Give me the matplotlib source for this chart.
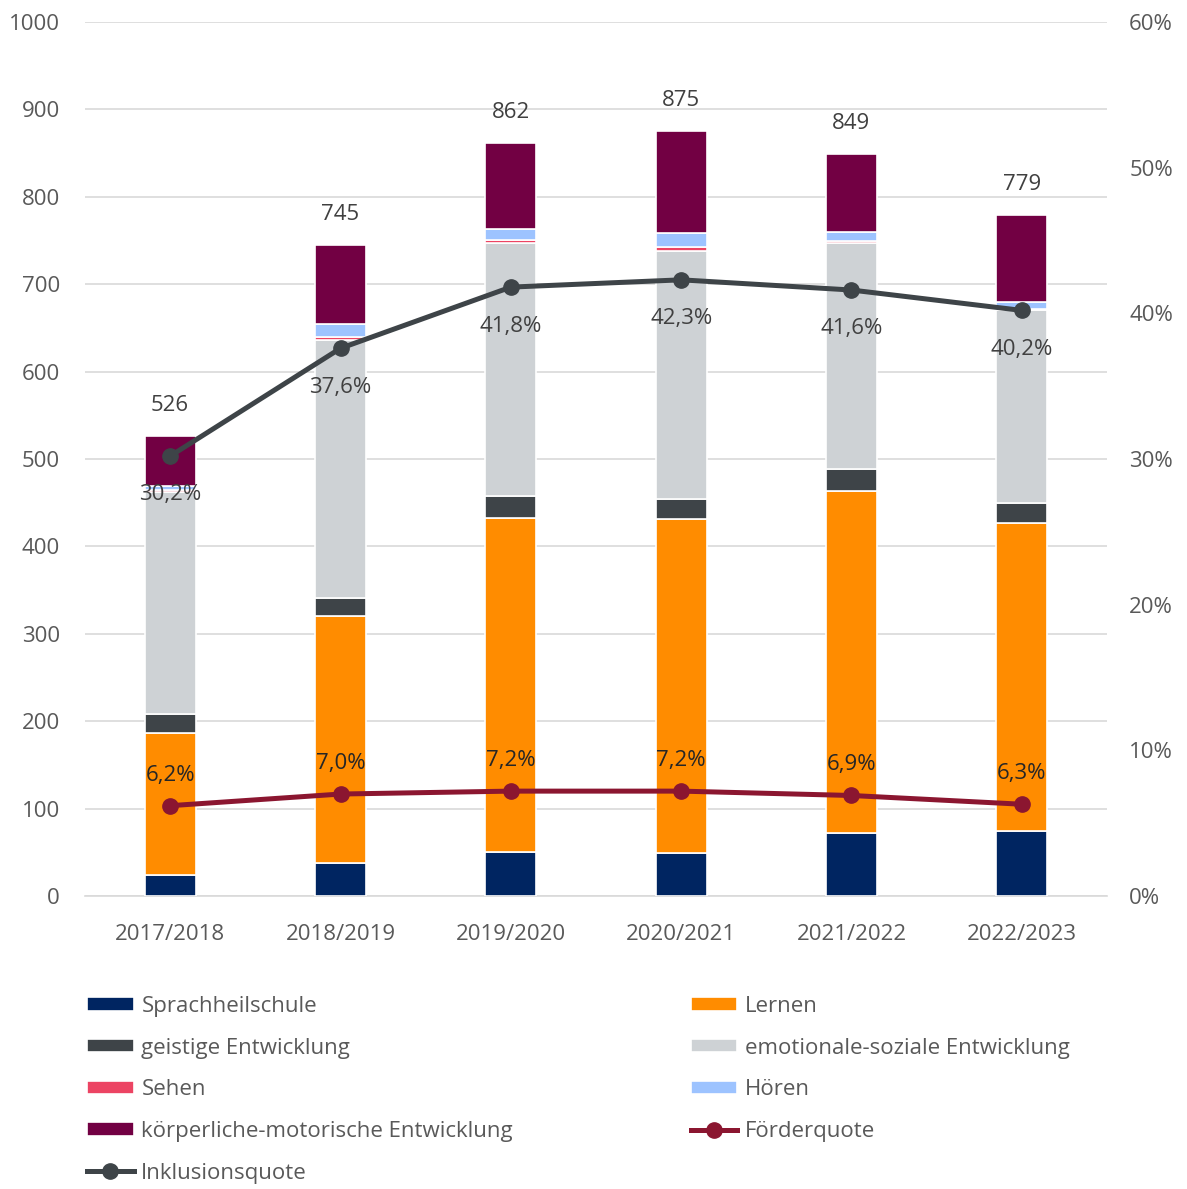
import matplotlib.pyplot as plt
import numpy as np

plt.rcParams['font.family'] = ['Open Sans', 'DejaVu Sans']

years = ['2017/2018', '2018/2019', '2019/2020', '2020/2021', '2021/2022', '2022/2023']
sprachheil = [24, 38, 50, 49, 72, 74]
lernen = [162, 282, 382, 382, 391, 353]
geistig = [22, 21, 26, 23, 25, 23]
emotional = [254, 295, 289, 284, 259, 220]
sehen = [2, 4, 4, 4, 2, 2]
hoeren = [5, 15, 12, 17, 11, 8]
koerper = [57, 90, 99, 116, 89, 99]
totals = [526, 745, 862, 875, 849, 779]
inklusion = [30.2, 37.6, 41.8, 42.3, 41.6, 40.2]
foerder = [6.2, 7.0, 7.2, 7.2, 6.9, 6.3]

series = [
    ('Sprachheilschule', sprachheil, '#002561'),
    ('Lernen', lernen, '#FF8C00'),
    ('geistige Entwicklung', geistig, '#3E4448'),
    ('emotionale-soziale Entwicklung', emotional, '#CED2D5'),
    ('Sehen', sehen, '#EC4463'),
    ('Hören', hoeren, '#9DC3FF'),
    ('körperliche-motorische Entwicklung', koerper, '#720043'),
]

txt = '#595959'
fs = 16
fig = plt.figure(figsize=(11.87, 11.89), dpi=100)
ax = fig.add_axes([85/1187, 1-896/1189, (1107-85)/1187, (896-22)/1189])
x = np.arange(len(years))

bottom = np.zeros(len(years))
handles = {}
for name, vals, col in series:
    b = ax.bar(x, vals, 0.3, bottom=bottom, color=col, edgecolor='white', linewidth=1.2, label=name, zorder=3)
    handles[name] = b
    bottom += np.array(vals)

for i, t in enumerate(totals):
    ax.annotate(str(t), (x[i], t), xytext=(0, 22), textcoords='offset points',
                ha='center', va='center', fontsize=fs, color='#404040')

ax.set_xlim(-0.5, 5.5)
ax.set_ylim(0, 1000)
ax.set_yticks(range(0, 1001, 100))
ax.set_xticks(x)
ax.set_xticklabels(years)
ax.grid(axis='y', color='#D9D9D9', linewidth=1.2, zorder=0)
ax.set_axisbelow(True)
for s in ['top', 'left', 'right']:
    ax.spines[s].set_visible(False)
ax.spines['bottom'].set_color('#D9D9D9')
ax.spines['bottom'].set_linewidth(1.2)
ax.tick_params(axis='both', length=0, labelsize=fs, labelcolor=txt)
ax.tick_params(axis='y', pad=18)
ax.tick_params(axis='x', pad=20)

ax2 = ax.twinx()
ax2.set_ylim(0, 60)
ax2.set_yticks(range(0, 61, 10))
ax2.set_yticklabels(['%d%%' % v for v in range(0, 61, 10)])
for s in ['top', 'left', 'right', 'bottom']:
    ax2.spines[s].set_visible(False)
ax2.tick_params(axis='y', length=0, labelsize=fs, labelcolor=txt, pad=16)

l_f, = ax2.plot(x, foerder, color='#8B1630', lw=3.6, marker='o', ms=11, label='Förderquote', zorder=5)
l_i, = ax2.plot(x, inklusion, color='#3E4448', lw=3.6, marker='o', ms=11, label='Inklusionsquote', zorder=5)

for i in range(len(years)):
    ax2.annotate(('%.1f%%' % inklusion[i]).replace('.', ','), (x[i], inklusion[i]), xytext=(0, -28),
                 textcoords='offset points', ha='center', va='center', fontsize=fs, color='#404040')
    ax2.annotate(('%.1f%%' % foerder[i]).replace('.', ','), (x[i], foerder[i]), xytext=(0, 22),
                 textcoords='offset points', ha='center', va='center', fontsize=fs, color='#262626')

order_h = [handles['Sprachheilschule'], handles['geistige Entwicklung'], handles['Sehen'],
           handles['körperliche-motorische Entwicklung'], l_i,
           handles['Lernen'], handles['emotionale-soziale Entwicklung'], handles['Hören'], l_f]
order_l = ['Sprachheilschule', 'geistige Entwicklung', 'Sehen', 'körperliche-motorische Entwicklung',
           'Inklusionsquote', 'Lernen', 'emotionale-soziale Entwicklung', 'Hören', 'Förderquote']
leg = fig.legend(order_h, order_l, loc='upper left', bbox_to_anchor=(78/1187, 1-987/1189), ncol=2,
                 frameon=False, fontsize=fs, handlelength=2.1, handleheight=0.55, handletextpad=0.35,
                 columnspacing=8.0, labelspacing=0.93, borderaxespad=0)
for t in leg.get_texts():
    t.set_color(txt)

fig.savefig('out.png', dpi=100)
